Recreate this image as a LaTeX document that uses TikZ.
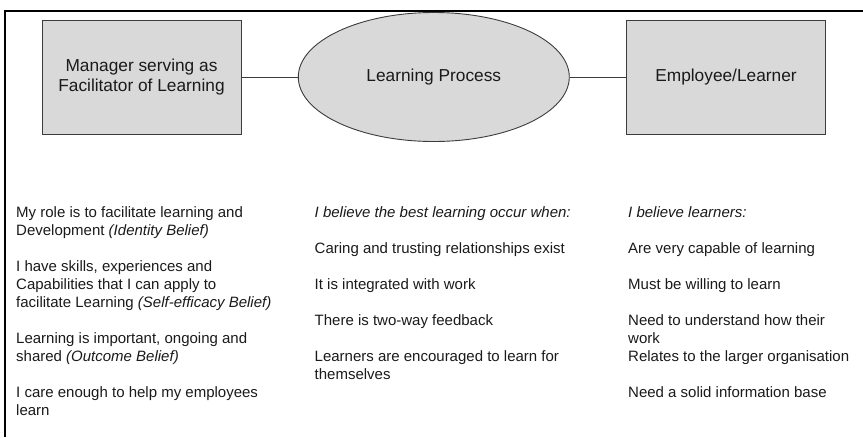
\documentclass[tikz,border=0pt]{standalone}
\usepackage{fontspec}
\setmainfont{Liberation Sans}
\usetikzlibrary{shapes.geometric}
\definecolor{boxfill}{HTML}{D9D9D9}
\definecolor{boxline}{HTML}{3C3C3C}
\definecolor{ink}{HTML}{1A1A1A}
\begin{document}
\begin{tikzpicture}[x=1pt,y=-1pt,
  every node/.style={text=ink},
  actor/.style={draw=boxline, fill=boxfill, line width=0.9pt,
    minimum width=199pt, minimum height=114pt, inner sep=0pt,
    align=center, font=\fontsize{17.3}{20}\selectfont},
  process/.style={ellipse, draw=boxline, fill=boxfill, line width=0.9pt,
    minimum width=271pt, minimum height=129pt, inner sep=0pt,
    font=\fontsize{17.3}{20}\selectfont},
  link/.style={draw=boxline, line width=0.9pt},
  txt/.style={anchor=base west, inner sep=0pt,
    font=\fontsize{15}{18}\selectfont}
]
\useasboundingbox (0,0) rectangle (863,437);

% outer frame (top and left edges)
\draw[line width=1.2pt, black] (5,437) -- (5,11) -- (863,11);

% the three actors of the learning relationship
\node[actor] (mgr) at (141.5,77) {Manager serving as\\Facilitator of Learning};
\node[process] (proc) at (433.8,77) {Learning Process};
\node[actor] (emp) at (726,77) {Employee/Learner};

\draw[link] (mgr) -- (proc);
\draw[link] (proc) -- (emp);

% manager beliefs
\node[txt] (a1) at (16,217.5) {My role is to facilitate learning and};
\node[txt] (a2) at (16,235.5) {Development \textit{(Identity Belief)}};
\node[txt] (a3) at (16,271.5) {I have skills, experiences and};
\node[txt] (a4) at (16,289.5) {Capabilities that I can apply to};
\node[txt] (a5) at (16,307.5) {facilitate Learning \textit{(Self-efficacy Belief)}};
\node[txt] (a6) at (16,343.5) {Learning is important, ongoing and};
\node[txt] (a7) at (16,361.5) {shared \textit{(Outcome Belief)}};
\node[txt] (a8) at (16,397.5) {I care enough to help my employees};
\node[txt] (a9) at (16,415.5) {learn};

% beliefs about the learning process
\node[txt] (b1) at (314.5,217.5) {\textit{I believe the best learning occur when:}};
\node[txt] (b2) at (314.5,253.5) {Caring and trusting relationships exist};
\node[txt] (b3) at (314.5,289.5) {It is integrated with work};
\node[txt] (b4) at (314.5,325.5) {There is two-way feedback};
\node[txt] (b5) at (314.5,361.5) {Learners are encouraged to learn for};
\node[txt] (b6) at (314.5,379.5) {themselves};

% beliefs about learners
\node[txt] (c1) at (628,217.5) {\textit{I believe learners:}};
\node[txt] (c2) at (628,253.5) {Are very capable of learning};
\node[txt] (c3) at (628,289.5) {Must be willing to learn};
\node[txt] (c4) at (628,325.5) {Need to understand how their};
\node[txt] (c5) at (628,343.5) {work};
\node[txt] (c6) at (628,361.5) {Relates to the larger organisation};
\node[txt] (c7) at (628,397.5) {Need a solid information base};
\end{tikzpicture}
\end{document}
